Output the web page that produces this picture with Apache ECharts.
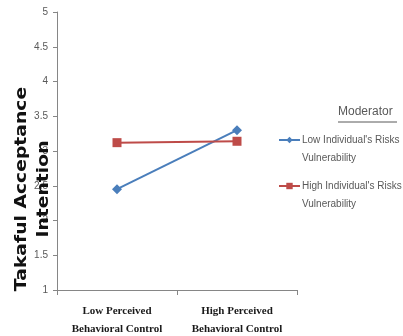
<!DOCTYPE html>
<html><head><meta charset="utf-8">
<script src="https://cdn.jsdelivr.net/npm/echarts@6/dist/echarts.min.js"></script>
<style>html,body{margin:0;padding:0;background:#fff}#c{width:403px;height:336px}</style>
</head><body><div id="c"></div>
<script>
const categories = ["Low Perceived\nBehavioral Control", "High Perceived\nBehavioral Control"];
const seriesNames = ["Low Individual's Risks Vulnerability", "High Individual's Risks Vulnerability"];
const legendLabels = ["Low Individual's Risks\nVulnerability", "High Individual's Risks\nVulnerability"];
const lowVulnerability = [2.45, 3.30];
const highVulnerability = [3.12, 3.14];
const yTicks = [1, 1.5, 2, 2.5, 3, 3.5, 4, 4.5, 5];
const yTitle = "Takaful Acceptance\nIntention";
const legendTitle = "Moderator";

const chart = echarts.init(document.getElementById('c'));
chart.setOption({
  animation: false,
  backgroundColor: '#fff',
  grid: {left: 57, top: 12, width: 240, height: 278, containLabel: false, outerBoundsMode: 'none'},
  xAxis: {
    type: 'category', data: categories, boundaryGap: true,
    axisLine: {lineStyle: {color: '#868686', width: 1}},
    axisTick: {show: true, alignWithLabel: false, length: 5, lineStyle: {color: '#868686'}},
    axisLabel: {interval: 0, color: '#1a1a1a', fontFamily: 'Liberation Serif', fontWeight: 'bold', fontSize: 11, lineHeight: 18, margin: 12}
  },
  yAxis: {
    type: 'value', min: yTicks[0], max: yTicks[yTicks.length-1], interval: 0.5,
    splitLine: {show: false},
    axisLine: {show: true, lineStyle: {color: '#868686', width: 1}},
    axisTick: {show: true, length: 4, lineStyle: {color: '#868686'}},
    axisLabel: {color: '#595959', fontFamily: 'Liberation Sans, sans-serif', fontSize: 10, margin: 9}
  },
  legend: {
    orient: 'vertical', left: 278, top: 113, padding: 0, itemGap: -8, itemWidth: 21, itemHeight: 8,
    data: seriesNames,
    formatter: function(n){ return '\n' + legendLabels[seriesNames.indexOf(n)]; },
    textStyle: {color: '#595959', fontFamily: 'Liberation Sans, sans-serif', fontSize: 10, lineHeight: 18, padding: [0,0,0,-3]}
  },
  graphic: [
    {type: 'text', left: 338, top: 106, style: {text: legendTitle, fill: '#595959', font: '12px "Liberation Sans", sans-serif'}},
    {type: 'line', shape: {x1: 338, y1: 122, x2: 397, y2: 122}, style: {stroke: '#595959', lineWidth: 1}},
    {type: 'text', x: 33, y: 189, rotation: Math.PI/2, scaleX: 1.25, z: 100,
     style: {text: yTitle, fill: '#111', font: 'bold 15px "DejaVu Sans", sans-serif', lineHeight: 22, align: 'center', verticalAlign: 'middle'}}
  ],
  series: [
    {name: seriesNames[0], type: 'line', data: lowVulnerability, symbol: 'diamond', symbolSize: 10,
     lineStyle: {color: '#4a7ebb', width: 2}, itemStyle: {color: '#4a7ebb'}},
    {name: seriesNames[1], type: 'line', data: highVulnerability, symbol: 'rect', symbolSize: 9,
     lineStyle: {color: '#be4b48', width: 2}, itemStyle: {color: '#be4b48'}}
  ]
});
</script></body></html>
